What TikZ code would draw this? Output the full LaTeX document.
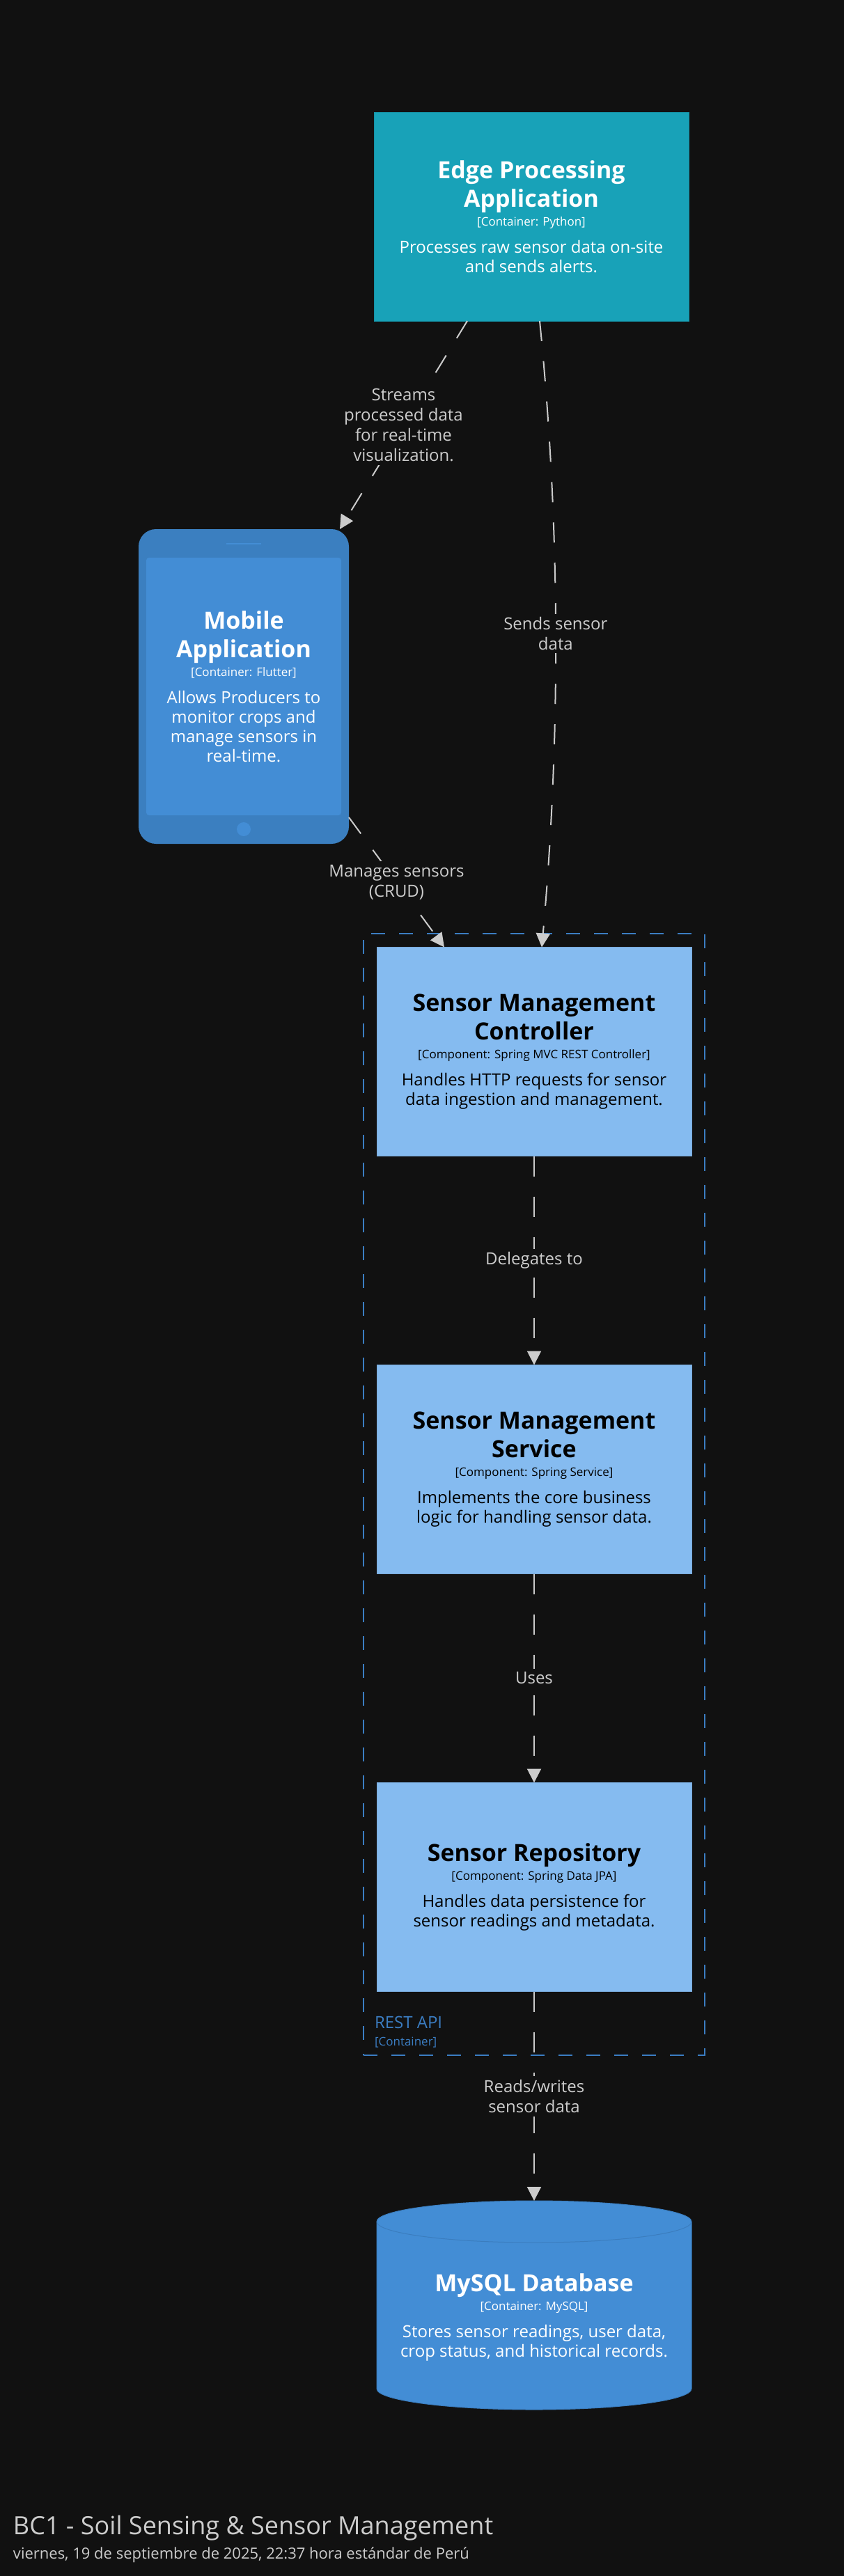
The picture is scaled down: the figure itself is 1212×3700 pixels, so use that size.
\documentclass[tikz,border=0pt]{standalone}
\usepackage{fontspec}
\setmainfont{Open Sans}
\usetikzlibrary{arrows.meta,calc}
\definecolor{bgcol}{HTML}{111111}
\definecolor{edgecol}{HTML}{18A2B8}
\definecolor{edgeborder}{HTML}{1592A6}
\definecolor{mobout}{HTML}{3B7FC0}
\definecolor{mobin}{HTML}{438DD5}
\definecolor{compcol}{HTML}{85BBF0}
\definecolor{compborder}{HTML}{78A9DA}
\definecolor{dbcol}{HTML}{438DD5}
\definecolor{dbborder}{HTML}{3B7DBE}
\definecolor{bndcol}{HTML}{3B7DC2}
\definecolor{lncol}{HTML}{CCCCCC}
\definecolor{titlecol}{HTML}{CCCCCC}
\newcommand\mynm{\fontsize{34}{41}\selectfont\bfseries}
\newcommand\mymt{\fontsize{17}{27}\selectfont}
\newcommand\myds{\fontsize{24}{28}\selectfont}
\newcommand\mylbl{\fontsize{24}{29}\selectfont}
\newcommand\ctext[3]{\spaceskip=0pt\xspaceskip=0pt{\mynm #1\par}{\mymt #2\par}\vspace{11pt}{\myds #3\par}}
\begin{document}
\begin{tikzpicture}[x=1pt,y=-1pt,
  every node/.style={inner sep=0pt, outer sep=0pt},
  conn/.style={draw=lncol, line width=2pt, dash pattern=on 29pt off 29pt, -{Triangle[length=20pt,width=20pt]}},
  lbl/.style={fill=bgcol, text=lncol, font=\mylbl, align=center, inner sep=5pt},
  comp/.style={fill=compcol, draw=compborder, line width=1pt, minimum width=452pt, minimum height=300pt, text width=440pt, align=flush center, text=black},
]
\useasboundingbox (0,0) rectangle (1212,3700);
\fill[bgcol] (0,0) rectangle (1212,3700);

% boundary
\node[draw=bndcol, line width=2pt, dash pattern=on 20pt off 20pt, minimum width=490pt, minimum height=1611pt] (bnd) at (767,2146.5) {};
\node[anchor=base west, text=bndcol, font=\fontsize{24}{28}\selectfont] (bndlbl) at (538,2913) {REST API};
\node[anchor=base west, text=bndcol, font=\fontsize{17}{20}\selectfont] (bndsub) at (538,2938) {[Container]};

% edge
\node[fill=edgecol, draw=edgeborder, line width=1pt, minimum width=452pt, minimum height=300pt, text width=440pt, align=flush center, text=white] (edge) at (763,311)
  {\ctext{Edge Processing\\Application}{[Container: Python]}{Processes raw sensor data on-site\\and sends alerts.}};

% mobile
\node[fill=mobout, rounded corners=25pt, minimum width=302pt, minimum height=452pt] (mob) at (350,986) {};
\node[fill=mobin, rounded corners=4pt, minimum width=280pt, minimum height=370pt, text width=270pt, align=flush center, text=white] (screen) at (350,986)
  {\ctext{Mobile\\Application}{[Container: Flutter]}{Allows Producers to\\monitor crops and\\manage sensors in\\real-time.}};
\draw[mobin, line width=2.5pt] (325,781) -- (375,781);
\fill[mobin] (350,1191) circle (10pt);

% components
\node[comp] (ctrl) at (767,1510.5)
  {\ctext{Sensor Management\\Controller}{[Component: Spring MVC REST Controller]}{Handles HTTP requests for sensor\\data ingestion and management.}};
\node[comp] (svc) at (767,2110.5)
  {\ctext{Sensor Management\\Service}{[Component: Spring Service]}{Implements the core business\\logic for handling sensor data.}};
\node[comp] (repo) at (767,2710.5)
  {\ctext{Sensor Repository}{[Component: Spring Data JPA]}{Handles data persistence for\\sensor readings and metadata.}};

% database
\node[minimum width=452pt, minimum height=300pt] (db) at (767,3311) {};
\fill[dbcol] (541,3191) -- (541,3431) arc[start angle=180, end angle=0, x radius=226, y radius=30]
  -- (993,3191) arc[start angle=0, end angle=-180, x radius=226, y radius=30] -- cycle;
\draw[dbborder, line width=1pt] (541,3191) -- (541,3431) arc[start angle=180, end angle=0, x radius=226, y radius=30]
  -- (993,3191) arc[start angle=0, end angle=-180, x radius=226, y radius=30];
\draw[dbborder, line width=1pt] (541,3191) arc[start angle=180, end angle=0, x radius=226, y radius=30];
\node[text width=440pt, align=flush center, text=white] (dbtxt) at (767,3328)
  {\ctext{MySQL Database}{[Container: MySQL]}{Stores sensor readings, user data,\\crop status, and historical records.}};

% connectors
\draw[conn] ([xshift=-92pt]edge.south) -- ([xshift=-13pt]mob.north east)
  node[lbl, pos=0.5] (lstream) {Streams\\processed data\\for real-time\\visualization.};
\draw[conn] ([xshift=12pt]edge.south) .. controls (805,760) and (805,1060) .. ([xshift=11pt]ctrl.north)
  node[lbl, pos=0.5, inner sep=4pt] (lsends) {Sends sensor\\data};
\draw[conn] ([yshift=38pt]mob.south east) -- ([xshift=-129pt]ctrl.north)
  node[lbl, pos=0.5] (lmanage) {Manages sensors\\(CRUD)};
\draw[conn] (ctrl.south) -- (svc.north) node[lbl, midway] (ldeleg) {Delegates to};
\draw[conn] (svc.south) -- (repo.north) node[lbl, midway] (luses) {Uses};
\draw[conn] (repo.south) -- (db.north) node[lbl, midway] (lrw) {Reads/writes\\sensor data};

% title
\node[anchor=base west, text=titlecol, font=\fontsize{36}{42}\selectfont] (title) at (19,3640) {BC1 - Soil Sensing \& Sensor Management};
\node[anchor=base west, text=titlecol, font=\fontsize{22}{26}\selectfont] (subtitle) at (19,3675) {viernes, 19 de septiembre de 2025, 22:37 hora estándar de Perú};
\end{tikzpicture}
\end{document}
